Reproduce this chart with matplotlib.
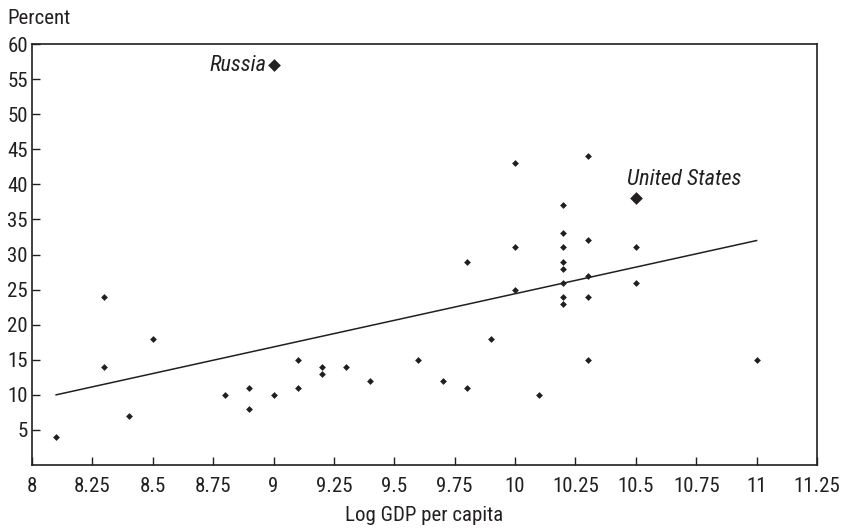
import numpy as np
import matplotlib
matplotlib.use("Agg")
import matplotlib.pyplot as plt

plt.rcParams['font.family'] = ['Roboto Condensed', 'Liberation Sans Narrow', 'Roboto', 'DejaVu Sans']

# country points: log GDP per capita vs percent
log_gdp = [8.1, 8.3, 8.3, 8.4, 8.5, 8.8, 8.9, 8.9, 9.0, 9.1, 9.1, 9.2, 9.2,
           9.3, 9.4, 9.6, 9.7, 9.8, 9.8, 9.9, 10.0, 10.0, 10.0, 10.1,
           10.2, 10.2, 10.2, 10.2, 10.2, 10.2, 10.2, 10.2,
           10.3, 10.3, 10.3, 10.3, 10.3, 10.5, 10.5, 11.0]
percent = [4, 24, 14, 7, 18, 10, 11, 8, 10, 15, 11, 14, 13,
           14, 12, 15, 12, 29, 11, 18, 43, 31, 25, 10,
           37, 33, 31, 29, 28, 26, 24, 23,
           44, 32, 27, 24, 15, 31, 26, 15]

labelled = ['Russia', 'United States']
labelled_x = [9.0, 10.5]
labelled_y = [57, 38]

x_ticks = [8, 8.25, 8.5, 8.75, 9, 9.25, 9.5, 9.75, 10, 10.25, 10.5, 10.75, 11, 11.25]
x_tick_labels = ['8', '8.25', '8.5', '8.75', '9', '9.25', '9.5', '9.75', '10',
                 '10.25', '10.5', '10.75', '11', '11.25']
y_ticks = [5, 10, 15, 20, 25, 30, 35, 40, 45, 50, 55, 60]

ink = '#231f20'
fs = 15

fig = plt.figure(figsize=(8.46, 5.31), dpi=100)
ax = fig.add_axes([0.0378, 0.1243, 0.9279, 0.7928])

ax.scatter(log_gdp, percent, marker='D', s=12, color=ink, linewidths=0, zorder=3)
ax.scatter(labelled_x, labelled_y, marker='D', s=42, color=ink, linewidths=0, zorder=3)

# fitted trend line over the range of the data
all_x = np.array(log_gdp + labelled_x)
all_y = np.array(percent + labelled_y)
slope, intercept = np.polyfit(all_x, all_y, 1)
line_x = np.array([min(all_x), max(all_x)])
ax.plot(line_x, slope * line_x + intercept, color=ink, lw=1.1)

ax.annotate(labelled[0], (labelled_x[0], labelled_y[0]), xytext=(-5, 0),
            textcoords='offset points', ha='right', va='center',
            fontsize=16, style='italic', color=ink)
ax.annotate(labelled[1], (labelled_x[1], labelled_y[1]), xytext=(-6, 6),
            textcoords='offset points', ha='left', va='bottom',
            fontsize=16, style='italic', color=ink)

ax.set_xlim(8, 11.25)
ax.set_ylim(0, 60)
ax.set_xticks(x_ticks)
ax.set_xticklabels(x_tick_labels)
ax.set_yticks(y_ticks)
ax.tick_params(direction='in', length=6, width=1, color=ink, labelcolor=ink,
               labelsize=fs)
ax.tick_params(axis='x', pad=9)
ax.tick_params(axis='y', pad=3)
for sp in ax.spines.values():
    sp.set_color(ink)
    sp.set_linewidth(1.2)

ax.set_xlabel('Log GDP per capita', fontsize=fs, color=ink, labelpad=7)
fig.text(0.009, 0.966, 'Percent', fontsize=fs, color=ink, ha='left', va='center')

fig.savefig('out.png', dpi=100)
